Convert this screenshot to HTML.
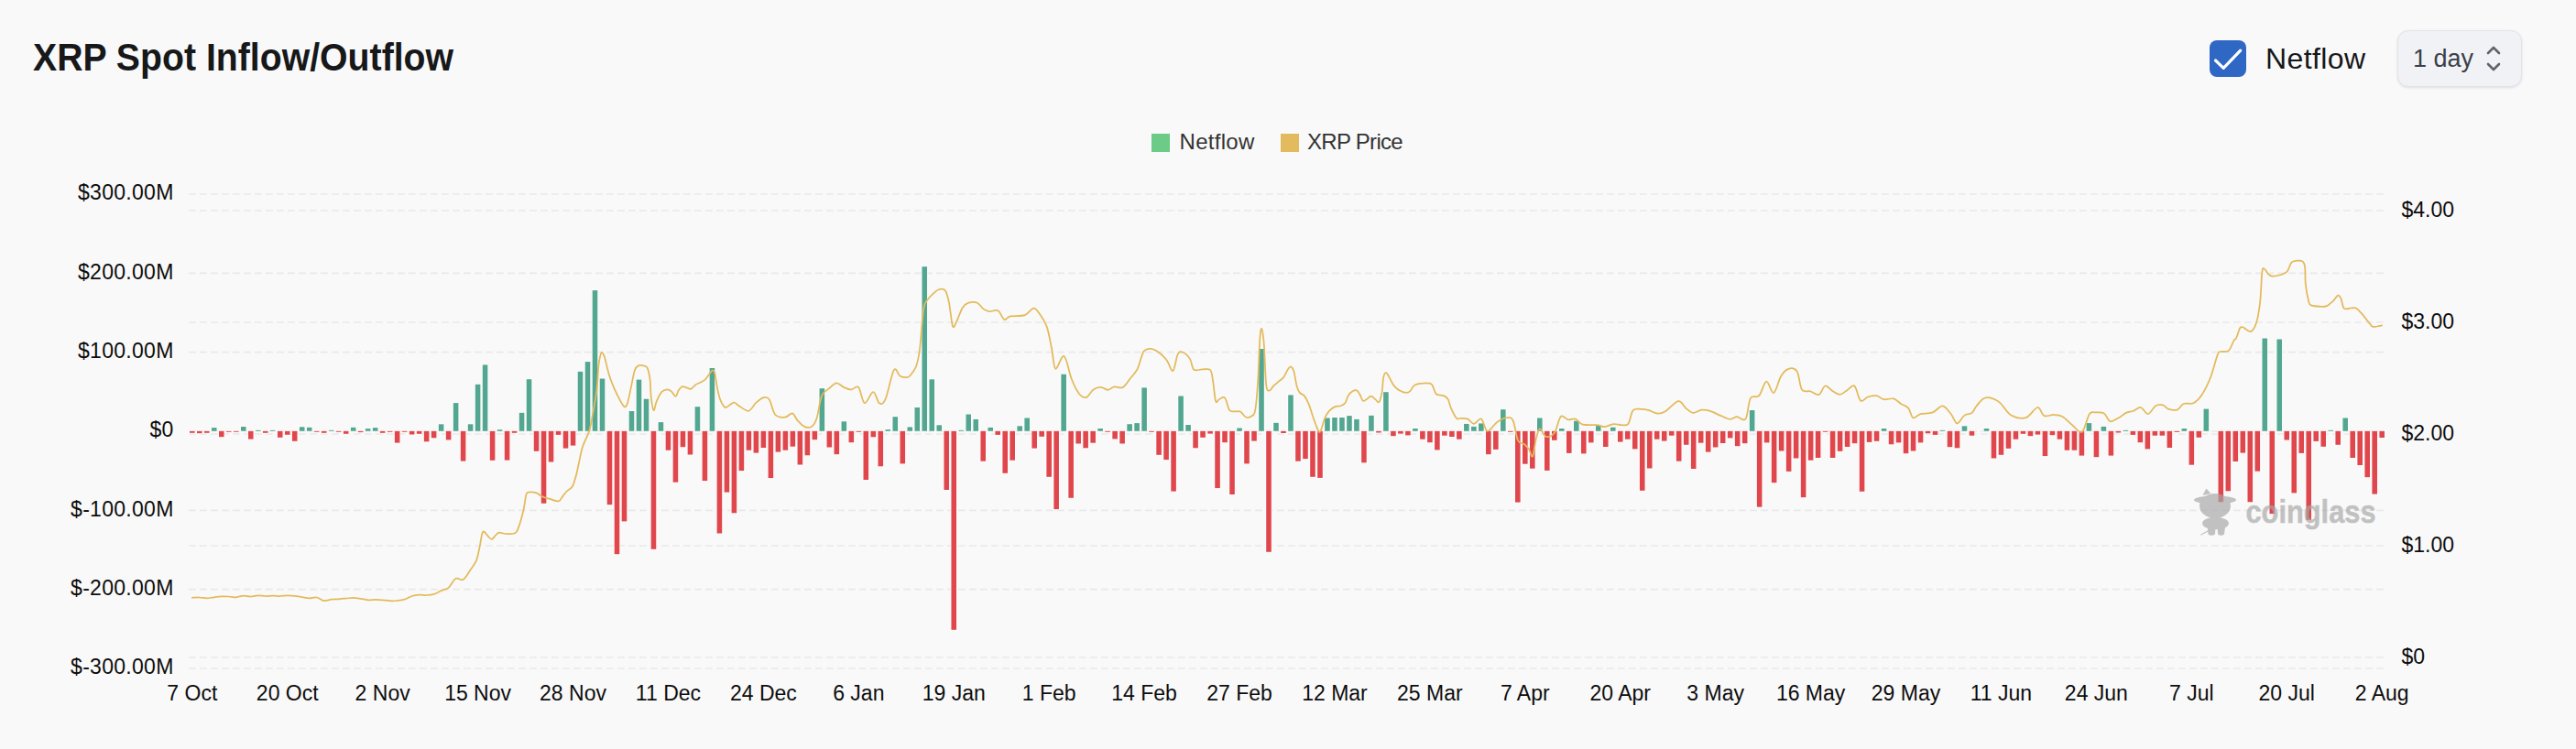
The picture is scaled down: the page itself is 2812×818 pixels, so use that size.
<!DOCTYPE html>
<html><head><meta charset="utf-8"><title>XRP Spot Inflow/Outflow</title>
<style>
html,body{margin:0;padding:0;}
body{width:2812px;height:818px;background:#f9f9f9;position:relative;overflow:hidden;font-family:"Liberation Sans",sans-serif;}
.title{position:absolute;left:36px;top:39px;font-size:42.5px;font-weight:bold;color:#17181a;white-space:nowrap;line-height:48px;transform:scaleX(0.923);transform-origin:0 0;}
.cb{position:absolute;left:2412px;top:44px;width:40px;height:40px;border-radius:8px;background:#2f67c5;}
.nf{position:absolute;left:2473px;top:46px;font-size:32px;color:#16171a;line-height:36px;white-space:nowrap;letter-spacing:0.4px;}
.dd{position:absolute;left:2617px;top:33px;width:134px;height:60px;border-radius:12px;background:#f1f2f5;border:1px solid #e1e3e7;box-shadow:0 1px 3px rgba(0,0,0,0.10);}
.dd span{position:absolute;left:16px;top:12px;font-size:27px;color:#3b4048;line-height:36px;white-space:nowrap;}
.legend{position:absolute;top:141px;font-size:24px;color:#333;line-height:28px;white-space:nowrap;}
.sq{position:absolute;top:146px;width:20px;height:20px;}
</style></head><body>
<div class="title">XRP Spot Inflow/Outflow</div>
<div class="cb"><svg width="40" height="40" viewBox="0 0 40 40" style="position:absolute;left:0;top:0"><path d="M6.5,22 L15.2,30.3 L33.7,11.2" fill="none" stroke="#fff" stroke-width="3.2" stroke-linecap="round" stroke-linejoin="round"/></svg></div>
<div class="nf">Netflow</div>
<div class="dd"><span>1 day</span><svg width="20" height="32" viewBox="0 0 20 32" style="position:absolute;left:94px;top:14px"><path d="M4,10 L10,4 L16,10 M4,22 L10,28 L16,22" fill="none" stroke="#5f646c" stroke-width="2.6" stroke-linecap="round" stroke-linejoin="round"/></svg></div>
<div class="sq" style="left:1257px;background:#6bcb87"></div>
<div class="legend" style="left:1287.5px;letter-spacing:0.3px">Netflow</div>
<div class="sq" style="left:1398px;background:#e3bb5f"></div>
<div class="legend" style="left:1427px;letter-spacing:-0.7px">XRP Price</div>
<svg width="2812" height="818" viewBox="0 0 2812 818" style="position:absolute;left:0;top:0"><g stroke="#e9e9e9" stroke-width="1.6" stroke-dasharray="7.8 4.2"><line x1="206" y1="212" x2="2602" y2="212" /><line x1="206" y1="298.33" x2="2602" y2="298.33" /><line x1="206" y1="384.67" x2="2602" y2="384.67" /><line x1="206" y1="471" x2="2602" y2="471" /><line x1="206" y1="557.33" x2="2602" y2="557.33" /><line x1="206" y1="643.67" x2="2602" y2="643.67" /><line x1="206" y1="730" x2="2602" y2="730" /><line x1="206" y1="230" x2="2602" y2="230" /><line x1="206" y1="352" x2="2602" y2="352" /><line x1="206" y1="474" x2="2602" y2="474" /><line x1="206" y1="596" x2="2602" y2="596" /><line x1="206" y1="718" x2="2602" y2="718" /></g><g fill="#53a790" stroke="#fff" stroke-width="1.4" paint-order="stroke"><rect x="230.98" y="467.1" width="5.6" height="3.7"/><rect x="262.96" y="466" width="5.6" height="4.8"/><rect x="278.95" y="469.8" width="5.6" height="1"/><rect x="294.94" y="469.8" width="5.6" height="1"/><rect x="326.92" y="466.3" width="5.6" height="4.5"/><rect x="334.91" y="466.8" width="5.6" height="4"/><rect x="358.9" y="469.8" width="5.6" height="1"/><rect x="382.88" y="466.8" width="5.6" height="4"/><rect x="398.87" y="468.1" width="5.6" height="2.7"/><rect x="406.87" y="467.1" width="5.6" height="3.7"/><rect x="478.82" y="463.3" width="5.6" height="7.5"/><rect x="494.81" y="440.1" width="5.6" height="30.7"/><rect x="510.79" y="463.3" width="5.6" height="7.5"/><rect x="518.79" y="419.8" width="5.6" height="51"/><rect x="526.78" y="398.4" width="5.6" height="72.4"/><rect x="542.77" y="469.2" width="5.6" height="1.6"/><rect x="566.76" y="450.8" width="5.6" height="20"/><rect x="574.75" y="414.2" width="5.6" height="56.6"/><rect x="630.71" y="405.8" width="5.6" height="65"/><rect x="638.71" y="395.1" width="5.6" height="75.7"/><rect x="646.7" y="317.1" width="5.6" height="153.7"/><rect x="654.7" y="413.5" width="5.6" height="57.3"/><rect x="686.68" y="449" width="5.6" height="21.8"/><rect x="694.67" y="414.6" width="5.6" height="56.2"/><rect x="702.67" y="435.7" width="5.6" height="35.1"/><rect x="718.65" y="461.1" width="5.6" height="9.7"/><rect x="758.63" y="444.2" width="5.6" height="26.6"/><rect x="774.62" y="402" width="5.6" height="68.8"/><rect x="894.54" y="424.2" width="5.6" height="46.6"/><rect x="918.52" y="460.3" width="5.6" height="10.5"/><rect x="966.49" y="469.1" width="5.6" height="1.7"/><rect x="974.48" y="455.2" width="5.6" height="15.6"/><rect x="990.47" y="466.4" width="5.6" height="4.4"/><rect x="998.47" y="445" width="5.6" height="25.8"/><rect x="1006.46" y="291.2" width="5.6" height="179.6"/><rect x="1014.45" y="414.3" width="5.6" height="56.5"/><rect x="1022.45" y="464.3" width="5.6" height="6.5"/><rect x="1046.43" y="469.8" width="5.6" height="1"/><rect x="1054.43" y="452.5" width="5.6" height="18.3"/><rect x="1062.42" y="457.9" width="5.6" height="12.9"/><rect x="1078.41" y="466.9" width="5.6" height="3.9"/><rect x="1110.39" y="465.3" width="5.6" height="5.5"/><rect x="1118.38" y="456.5" width="5.6" height="14.3"/><rect x="1158.36" y="408.7" width="5.6" height="62.1"/><rect x="1198.33" y="468" width="5.6" height="2.8"/><rect x="1230.31" y="463.2" width="5.6" height="7.6"/><rect x="1238.3" y="462.1" width="5.6" height="8.7"/><rect x="1246.3" y="423.4" width="5.6" height="47.4"/><rect x="1286.27" y="432.5" width="5.6" height="38.3"/><rect x="1294.27" y="464" width="5.6" height="6.8"/><rect x="1350.23" y="467.5" width="5.6" height="3.3"/><rect x="1374.21" y="381" width="5.6" height="89.8"/><rect x="1390.2" y="461.8" width="5.6" height="9"/><rect x="1406.19" y="431.4" width="5.6" height="39.4"/><rect x="1446.16" y="456.5" width="5.6" height="14.3"/><rect x="1454.16" y="456" width="5.6" height="14.8"/><rect x="1462.15" y="456" width="5.6" height="14.8"/><rect x="1470.15" y="454.1" width="5.6" height="16.7"/><rect x="1478.14" y="457.9" width="5.6" height="12.9"/><rect x="1494.13" y="453.8" width="5.6" height="17"/><rect x="1510.12" y="428.2" width="5.6" height="42.6"/><rect x="1542.1" y="468" width="5.6" height="2.8"/><rect x="1598.06" y="462.9" width="5.6" height="7.9"/><rect x="1606.06" y="465.9" width="5.6" height="4.9"/><rect x="1614.05" y="462.4" width="5.6" height="8.4"/><rect x="1638.03" y="447.2" width="5.6" height="23.6"/><rect x="1678.01" y="456.5" width="5.6" height="14.3"/><rect x="1701.99" y="468" width="5.6" height="2.8"/><rect x="1717.98" y="459.7" width="5.6" height="11.1"/><rect x="1741.96" y="465.1" width="5.6" height="5.7"/><rect x="1757.95" y="466.7" width="5.6" height="4.1"/><rect x="1909.85" y="448" width="5.6" height="22.8"/><rect x="2053.75" y="468" width="5.6" height="2.8"/><rect x="2117.71" y="469.8" width="5.6" height="1"/><rect x="2141.69" y="465.3" width="5.6" height="5.5"/><rect x="2165.68" y="468" width="5.6" height="2.8"/><rect x="2277.6" y="462.1" width="5.6" height="8.7"/><rect x="2293.59" y="465.9" width="5.6" height="4.9"/><rect x="2317.57" y="469.8" width="5.6" height="1"/><rect x="2381.53" y="468" width="5.6" height="2.8"/><rect x="2405.51" y="446.6" width="5.6" height="24.2"/><rect x="2469.47" y="369.5" width="5.6" height="101.3"/><rect x="2485.46" y="370.5" width="5.6" height="100.3"/><rect x="2541.42" y="469.8" width="5.6" height="1"/><rect x="2557.41" y="456.5" width="5.6" height="14.3"/></g><g fill="#e0474d" stroke="#fff" stroke-width="1.4" paint-order="stroke"><rect x="207" y="470.8" width="5.6" height="2"/><rect x="214.99" y="470.8" width="5.6" height="2.4"/><rect x="222.99" y="470.8" width="5.6" height="2"/><rect x="238.98" y="470.8" width="5.6" height="6.4"/><rect x="246.97" y="470.8" width="5.6" height="1"/><rect x="254.97" y="470.8" width="5.6" height="1"/><rect x="270.96" y="470.8" width="5.6" height="8.8"/><rect x="286.95" y="470.8" width="5.6" height="2"/><rect x="302.94" y="470.8" width="5.6" height="7"/><rect x="310.93" y="470.8" width="5.6" height="4"/><rect x="318.92" y="470.8" width="5.6" height="11"/><rect x="342.91" y="470.8" width="5.6" height="1"/><rect x="350.9" y="470.8" width="5.6" height="2"/><rect x="366.89" y="470.8" width="5.6" height="1"/><rect x="374.89" y="470.8" width="5.6" height="3"/><rect x="390.88" y="470.8" width="5.6" height="1.3"/><rect x="414.86" y="470.8" width="5.6" height="2"/><rect x="422.85" y="470.8" width="5.6" height="1"/><rect x="430.85" y="470.8" width="5.6" height="12.8"/><rect x="438.84" y="470.8" width="5.6" height="1"/><rect x="446.84" y="470.8" width="5.6" height="3.7"/><rect x="454.83" y="470.8" width="5.6" height="3"/><rect x="462.83" y="470.8" width="5.6" height="11.5"/><rect x="470.82" y="470.8" width="5.6" height="7.5"/><rect x="486.81" y="470.8" width="5.6" height="9.6"/><rect x="502.8" y="470.8" width="5.6" height="32.8"/><rect x="534.78" y="470.8" width="5.6" height="32"/><rect x="550.77" y="470.8" width="5.6" height="31.8"/><rect x="558.76" y="470.8" width="5.6" height="2"/><rect x="582.75" y="470.8" width="5.6" height="22"/><rect x="590.74" y="470.8" width="5.6" height="79"/><rect x="598.74" y="470.8" width="5.6" height="33.7"/><rect x="606.73" y="470.8" width="5.6" height="4.1"/><rect x="614.72" y="470.8" width="5.6" height="18.8"/><rect x="622.72" y="470.8" width="5.6" height="15.8"/><rect x="662.69" y="470.8" width="5.6" height="80.4"/><rect x="670.69" y="470.8" width="5.6" height="134.4"/><rect x="678.68" y="470.8" width="5.6" height="98.6"/><rect x="710.66" y="470.8" width="5.6" height="129"/><rect x="726.65" y="470.8" width="5.6" height="20.9"/><rect x="734.64" y="470.8" width="5.6" height="55.9"/><rect x="742.64" y="470.8" width="5.6" height="17.4"/><rect x="750.63" y="470.8" width="5.6" height="25.7"/><rect x="766.62" y="470.8" width="5.6" height="54.3"/><rect x="782.61" y="470.8" width="5.6" height="111.7"/><rect x="790.61" y="470.8" width="5.6" height="66.8"/><rect x="798.6" y="470.8" width="5.6" height="89.5"/><rect x="806.6" y="470.8" width="5.6" height="43.3"/><rect x="814.59" y="470.8" width="5.6" height="20.9"/><rect x="822.58" y="470.8" width="5.6" height="23.8"/><rect x="830.58" y="470.8" width="5.6" height="18.2"/><rect x="838.57" y="470.8" width="5.6" height="51.3"/><rect x="846.57" y="470.8" width="5.6" height="22.8"/><rect x="854.56" y="470.8" width="5.6" height="20.9"/><rect x="862.56" y="470.8" width="5.6" height="16.9"/><rect x="870.55" y="470.8" width="5.6" height="36.7"/><rect x="878.55" y="470.8" width="5.6" height="26.5"/><rect x="886.54" y="470.8" width="5.6" height="9.4"/><rect x="902.53" y="470.8" width="5.6" height="17.7"/><rect x="910.52" y="470.8" width="5.6" height="25.4"/><rect x="926.51" y="470.8" width="5.6" height="12.4"/><rect x="934.51" y="470.8" width="5.6" height="1"/><rect x="942.5" y="470.8" width="5.6" height="53.2"/><rect x="950.5" y="470.8" width="5.6" height="6.5"/><rect x="958.49" y="470.8" width="5.6" height="38.5"/><rect x="982.48" y="470.8" width="5.6" height="35.6"/><rect x="1030.44" y="470.8" width="5.6" height="64.2"/><rect x="1038.44" y="470.8" width="5.6" height="217"/><rect x="1070.42" y="470.8" width="5.6" height="32.9"/><rect x="1086.41" y="470.8" width="5.6" height="4.1"/><rect x="1094.4" y="470.8" width="5.6" height="46"/><rect x="1102.4" y="470.8" width="5.6" height="31.9"/><rect x="1126.38" y="470.8" width="5.6" height="18.8"/><rect x="1134.37" y="470.8" width="5.6" height="6"/><rect x="1142.37" y="470.8" width="5.6" height="50"/><rect x="1150.36" y="470.8" width="5.6" height="85.3"/><rect x="1166.35" y="470.8" width="5.6" height="73"/><rect x="1174.35" y="470.8" width="5.6" height="13.7"/><rect x="1182.34" y="470.8" width="5.6" height="18.5"/><rect x="1190.34" y="470.8" width="5.6" height="12.9"/><rect x="1206.33" y="470.8" width="5.6" height="1"/><rect x="1214.32" y="470.8" width="5.6" height="8.6"/><rect x="1222.31" y="470.8" width="5.6" height="13.7"/><rect x="1254.29" y="470.8" width="5.6" height="1"/><rect x="1262.29" y="470.8" width="5.6" height="26"/><rect x="1270.28" y="470.8" width="5.6" height="31.3"/><rect x="1278.28" y="470.8" width="5.6" height="65.8"/><rect x="1302.26" y="470.8" width="5.6" height="18.5"/><rect x="1310.25" y="470.8" width="5.6" height="7"/><rect x="1318.25" y="470.8" width="5.6" height="2.8"/><rect x="1326.24" y="470.8" width="5.6" height="62.3"/><rect x="1334.24" y="470.8" width="5.6" height="12.4"/><rect x="1342.23" y="470.8" width="5.6" height="69.2"/><rect x="1358.22" y="470.8" width="5.6" height="35.6"/><rect x="1366.22" y="470.8" width="5.6" height="10.8"/><rect x="1382.21" y="470.8" width="5.6" height="132"/><rect x="1398.2" y="470.8" width="5.6" height="2.2"/><rect x="1414.18" y="470.8" width="5.6" height="32.9"/><rect x="1422.18" y="470.8" width="5.6" height="30.3"/><rect x="1430.17" y="470.8" width="5.6" height="50"/><rect x="1438.17" y="470.8" width="5.6" height="51.1"/><rect x="1486.14" y="470.8" width="5.6" height="34.5"/><rect x="1502.13" y="470.8" width="5.6" height="1.7"/><rect x="1518.11" y="470.8" width="5.6" height="5.4"/><rect x="1526.11" y="470.8" width="5.6" height="2.8"/><rect x="1534.1" y="470.8" width="5.6" height="4.6"/><rect x="1550.09" y="470.8" width="5.6" height="8.9"/><rect x="1558.09" y="470.8" width="5.6" height="12.4"/><rect x="1566.08" y="470.8" width="5.6" height="20.6"/><rect x="1574.08" y="470.8" width="5.6" height="4.9"/><rect x="1582.07" y="470.8" width="5.6" height="6.2"/><rect x="1590.07" y="470.8" width="5.6" height="8.9"/><rect x="1622.04" y="470.8" width="5.6" height="25.4"/><rect x="1630.04" y="470.8" width="5.6" height="20.1"/><rect x="1646.03" y="470.8" width="5.6" height="1"/><rect x="1654.02" y="470.8" width="5.6" height="77.8"/><rect x="1662.02" y="470.8" width="5.6" height="35.9"/><rect x="1670.01" y="470.8" width="5.6" height="40.9"/><rect x="1686" y="470.8" width="5.6" height="43.1"/><rect x="1694" y="470.8" width="5.6" height="10"/><rect x="1709.98" y="470.8" width="5.6" height="24.1"/><rect x="1725.97" y="470.8" width="5.6" height="24.6"/><rect x="1733.97" y="470.8" width="5.6" height="12.6"/><rect x="1749.96" y="470.8" width="5.6" height="17.2"/><rect x="1765.95" y="470.8" width="5.6" height="11.8"/><rect x="1773.94" y="470.8" width="5.6" height="8.9"/><rect x="1781.94" y="470.8" width="5.6" height="19.6"/><rect x="1789.93" y="470.8" width="5.6" height="65"/><rect x="1797.93" y="470.8" width="5.6" height="40.7"/><rect x="1805.92" y="470.8" width="5.6" height="8.9"/><rect x="1813.91" y="470.8" width="5.6" height="10.8"/><rect x="1821.91" y="470.8" width="5.6" height="4.9"/><rect x="1829.9" y="470.8" width="5.6" height="32.9"/><rect x="1837.9" y="470.8" width="5.6" height="15"/><rect x="1845.89" y="470.8" width="5.6" height="41.2"/><rect x="1853.89" y="470.8" width="5.6" height="12.9"/><rect x="1861.88" y="470.8" width="5.6" height="22.8"/><rect x="1869.88" y="470.8" width="5.6" height="17.7"/><rect x="1877.87" y="470.8" width="5.6" height="13.2"/><rect x="1885.87" y="470.8" width="5.6" height="7.6"/><rect x="1893.86" y="470.8" width="5.6" height="16.4"/><rect x="1901.86" y="470.8" width="5.6" height="13.4"/><rect x="1917.84" y="470.8" width="5.6" height="82.9"/><rect x="1925.84" y="470.8" width="5.6" height="12.6"/><rect x="1933.83" y="470.8" width="5.6" height="56.4"/><rect x="1941.83" y="470.8" width="5.6" height="21.7"/><rect x="1949.82" y="470.8" width="5.6" height="44.1"/><rect x="1957.82" y="470.8" width="5.6" height="29.7"/><rect x="1965.81" y="470.8" width="5.6" height="72.4"/><rect x="1973.81" y="470.8" width="5.6" height="31.9"/><rect x="1981.8" y="470.8" width="5.6" height="29.2"/><rect x="1989.8" y="470.8" width="5.6" height="1"/><rect x="1997.79" y="470.8" width="5.6" height="29.2"/><rect x="2005.79" y="470.8" width="5.6" height="22"/><rect x="2013.78" y="470.8" width="5.6" height="17.2"/><rect x="2021.77" y="470.8" width="5.6" height="13.4"/><rect x="2029.77" y="470.8" width="5.6" height="66"/><rect x="2037.76" y="470.8" width="5.6" height="12.1"/><rect x="2045.76" y="470.8" width="5.6" height="11"/><rect x="2061.75" y="470.8" width="5.6" height="14.5"/><rect x="2069.74" y="470.8" width="5.6" height="12.6"/><rect x="2077.74" y="470.8" width="5.6" height="24.4"/><rect x="2085.73" y="470.8" width="5.6" height="21.7"/><rect x="2093.73" y="470.8" width="5.6" height="12.6"/><rect x="2101.72" y="470.8" width="5.6" height="2.5"/><rect x="2109.71" y="470.8" width="5.6" height="4.1"/><rect x="2125.7" y="470.8" width="5.6" height="17.4"/><rect x="2133.7" y="470.8" width="5.6" height="18.5"/><rect x="2149.69" y="470.8" width="5.6" height="4.9"/><rect x="2173.67" y="470.8" width="5.6" height="29.7"/><rect x="2181.67" y="470.8" width="5.6" height="26"/><rect x="2189.66" y="470.8" width="5.6" height="19"/><rect x="2197.66" y="470.8" width="5.6" height="8.9"/><rect x="2205.65" y="470.8" width="5.6" height="3"/><rect x="2213.64" y="470.8" width="5.6" height="5.4"/><rect x="2221.64" y="470.8" width="5.6" height="3.8"/><rect x="2229.63" y="470.8" width="5.6" height="27.3"/><rect x="2237.63" y="470.8" width="5.6" height="4.4"/><rect x="2245.62" y="470.8" width="5.6" height="8.9"/><rect x="2253.62" y="470.8" width="5.6" height="20.9"/><rect x="2261.61" y="470.8" width="5.6" height="20.9"/><rect x="2269.61" y="470.8" width="5.6" height="26.8"/><rect x="2285.6" y="470.8" width="5.6" height="28.4"/><rect x="2301.59" y="470.8" width="5.6" height="26.8"/><rect x="2309.58" y="470.8" width="5.6" height="1.7"/><rect x="2325.57" y="470.8" width="5.6" height="4.1"/><rect x="2333.56" y="470.8" width="5.6" height="12.4"/><rect x="2341.56" y="470.8" width="5.6" height="19.6"/><rect x="2349.55" y="470.8" width="5.6" height="4.9"/><rect x="2357.55" y="470.8" width="5.6" height="4.9"/><rect x="2365.54" y="470.8" width="5.6" height="18.2"/><rect x="2373.54" y="470.8" width="5.6" height="1.1"/><rect x="2389.53" y="470.8" width="5.6" height="36.9"/><rect x="2397.52" y="470.8" width="5.6" height="7"/><rect x="2421.5" y="470.8" width="5.6" height="77.5"/><rect x="2429.5" y="470.8" width="5.6" height="65.5"/><rect x="2437.49" y="470.8" width="5.6" height="33.2"/><rect x="2445.49" y="470.8" width="5.6" height="23.8"/><rect x="2453.48" y="470.8" width="5.6" height="77.5"/><rect x="2461.48" y="470.8" width="5.6" height="43.9"/><rect x="2477.47" y="470.8" width="5.6" height="90.3"/><rect x="2493.46" y="470.8" width="5.6" height="9.7"/><rect x="2501.45" y="470.8" width="5.6" height="67.6"/><rect x="2509.44" y="470.8" width="5.6" height="24.1"/><rect x="2517.44" y="470.8" width="5.6" height="97"/><rect x="2525.43" y="470.8" width="5.6" height="11.1"/><rect x="2533.43" y="470.8" width="5.6" height="17"/><rect x="2549.42" y="470.8" width="5.6" height="15"/><rect x="2565.41" y="470.8" width="5.6" height="29.2"/><rect x="2573.4" y="470.8" width="5.6" height="37.2"/><rect x="2581.4" y="470.8" width="5.6" height="50.4"/><rect x="2589.39" y="470.8" width="5.6" height="68.8"/><rect x="2597.39" y="470.8" width="5.6" height="7.2"/></g><path d="M209.8,652.8C211.13,652.75 215.13,652.4 217.79,652.5C220.46,652.6 223.12,653.43 225.79,653.4C228.45,653.37 231.12,652.65 233.78,652.3C236.45,651.95 239.11,651.43 241.78,651.3C244.44,651.17 247.11,651.33 249.77,651.5C252.44,651.67 255.1,652.45 257.77,652.3C260.43,652.15 263.1,650.73 265.76,650.6C268.43,650.47 271.09,651.53 273.76,651.5C276.42,651.47 279.09,650.48 281.75,650.4C284.42,650.32 287.08,650.97 289.75,651C292.41,651.03 295.08,650.6 297.74,650.6C300.41,650.6 303.07,651.03 305.74,651C308.4,650.97 311.06,650.43 313.73,650.4C316.39,650.37 319.06,650.52 321.72,650.8C324.39,651.08 327.05,651.67 329.72,652.1C332.38,652.53 335.05,653.33 337.71,653.4C340.38,653.47 343.04,652.03 345.71,652.5C348.37,652.97 351.04,655.83 353.7,656.2C356.37,656.57 359.03,655.02 361.7,654.7C364.36,654.38 367.03,654.48 369.69,654.3C372.36,654.12 375.02,653.85 377.69,653.6C380.35,653.35 383.02,652.77 385.68,652.8C388.35,652.83 391.01,653.38 393.68,653.8C396.34,654.22 399.01,655.12 401.67,655.3C404.34,655.48 407,654.9 409.67,654.9C412.33,654.9 414.99,655.08 417.66,655.3C420.32,655.52 422.99,656.08 425.65,656.2C428.32,656.32 430.98,656.25 433.65,656C436.31,655.75 438.98,655.53 441.64,654.7C444.31,653.87 446.97,651.85 449.64,651C452.3,650.15 454.97,649.77 457.63,649.6C460.3,649.43 462.96,650.12 465.63,650C468.29,649.88 470.96,649.72 473.62,648.9C476.29,648.08 478.95,646.27 481.62,645.1C484.28,643.93 486.95,644.12 489.61,641.9C492.28,639.68 494.94,633.27 497.61,631.8C500.27,630.33 502.94,634.7 505.6,633.1C508.27,631.5 511.19,625.7 513.59,622.2C515.99,618.7 518.4,615.92 520,612.1C521.6,608.28 522.13,604.23 523.2,599.3C524.27,594.37 525.47,585.57 526.4,582.5C527.33,579.43 527.73,580.37 528.8,580.9C529.87,581.43 531.47,584.37 532.8,585.7C534.13,587.03 535.47,589.03 536.8,588.9C538.13,588.77 539.47,586.1 540.8,584.9C542.13,583.7 542.93,582.02 544.8,581.7C546.67,581.38 549.2,582.87 552,583C554.8,583.13 559.32,583.52 561.6,582.5C563.88,581.48 564.08,581.03 565.7,576.9C567.32,572.77 569.83,563.85 571.3,557.7C572.77,551.55 573.43,543.35 574.5,540C575.57,536.65 575.83,537.87 577.7,537.6C579.57,537.33 583.3,537.6 585.7,538.4C588.1,539.2 589.7,541.32 592.1,542.4C594.5,543.48 597.17,544.08 600.1,544.9C603.03,545.72 607.3,547.85 609.7,547.3C612.1,546.75 612.9,543.48 614.5,541.6C616.1,539.72 617.57,537.73 619.3,536C621.03,534.27 623.3,534 624.9,531.2C626.5,528.4 627.7,523.6 628.9,519.2C630.1,514.8 630.92,510 632.1,504.8C633.28,499.6 634.12,493.8 636,488C637.88,482.2 641.5,476.32 643.4,470C645.3,463.68 646.07,457.42 647.4,450.1C648.73,442.78 650.4,434.55 651.4,426.1C652.4,417.65 652.63,406.08 653.4,399.4C654.17,392.72 655.23,388.27 656,386C656.77,383.73 657.33,385.13 658,385.8C658.67,386.47 658.88,386.18 660,390C661.12,393.82 663.02,403.13 664.7,408.7C666.38,414.27 668.1,418.72 670.1,423.4C672.1,428.08 674.82,433.35 676.7,436.8C678.58,440.25 680.05,443.43 681.4,444.1C682.75,444.77 683.57,444.25 684.8,440.8C686.03,437.35 687.47,429.42 688.8,423.4C690.13,417.38 691.47,408.7 692.8,404.7C694.13,400.7 695.02,400.25 696.8,399.4C698.58,398.55 701.83,399.15 703.5,399.6C705.17,400.05 705.8,399.68 706.8,402.1C707.8,404.52 708.83,408.77 709.5,414.1C710.17,419.43 710.13,428.43 710.8,434.1C711.47,439.77 712.5,447.43 713.5,448.1C714.5,448.77 715.35,441.43 716.8,438.1C718.25,434.77 720.3,430.22 722.2,428.1C724.1,425.98 726.43,425.52 728.2,425.4C729.97,425.28 731.25,426.17 732.8,427.4C734.35,428.63 736.15,433.02 737.5,432.8C738.85,432.58 739.67,427.88 740.9,426.1C742.13,424.32 743.47,422.55 744.9,422.1C746.33,421.65 747.95,422.95 749.5,423.4C751.05,423.85 752.53,425.35 754.2,424.8C755.87,424.25 757.72,421.33 759.5,420.1C761.28,418.87 763.12,418.4 764.9,417.4C766.68,416.4 768.65,415.55 770.2,414.1C771.75,412.65 772.97,410.3 774.2,408.7C775.43,407.1 776.58,404.72 777.6,404.5C778.62,404.28 779.42,404.25 780.3,407.4C781.18,410.55 781.9,418.5 782.9,423.4C783.9,428.3 785.12,433.45 786.3,436.8C787.48,440.15 788.9,442.17 790,443.5C791.1,444.83 791.07,445.43 792.9,444.8C794.73,444.17 798.77,440.02 801,439.7C803.23,439.38 803.63,441.38 806.3,442.9C808.97,444.42 813.88,449.25 817,448.8C820.12,448.35 822.33,442.62 825,440.2C827.67,437.78 830.55,434.97 833,434.3C835.45,433.63 837.48,433.08 839.7,436.2C841.92,439.32 843.42,449.75 846.3,453C849.18,456.25 853.88,455.97 857,455.7C860.12,455.43 862.77,450.87 865,451.4C867.23,451.93 868.17,456.45 870.4,458.9C872.63,461.35 875.73,464.98 878.4,466.1C881.07,467.22 884.18,467.25 886.4,465.6C888.62,463.95 889.92,461.77 891.7,456.2C893.48,450.63 894.87,437.53 897.1,432.2C899.33,426.87 902.43,426.52 905.1,424.2C907.77,421.88 910.43,418.52 913.1,418.3C915.77,418.08 918.43,421.7 921.1,422.9C923.77,424.1 926.43,425.5 929.1,425.5C931.77,425.5 934.65,420.45 937.1,422.9C939.55,425.35 941.12,439.32 943.8,440.2C946.48,441.08 950.53,428.2 953.2,428.2C955.87,428.2 957.58,438.87 959.8,440.2C962.02,441.53 963.83,442.2 966.5,436.2C969.17,430.2 973.13,408.43 975.8,404.2C978.47,399.97 980.13,409.47 982.5,410.8C984.87,412.13 988.18,412.28 990,412.2C991.82,412.12 991.73,412.3 993.4,410.3C995.07,408.3 998.23,405 1000,400.2C1001.77,395.4 1002.67,391.75 1004,381.5C1005.33,371.25 1006.67,347.62 1008,338.7C1009.33,329.78 1010,331.2 1012,328C1014,324.8 1017.77,321.5 1020,319.5C1022.23,317.5 1023.4,316.35 1025.4,316C1027.4,315.65 1030.23,314.95 1032,317.4C1033.77,319.85 1034.67,324.25 1036,330.7C1037.33,337.15 1038.67,352.62 1040,356.1C1041.33,359.58 1042.2,354.95 1044,351.6C1045.8,348.25 1048.57,339.48 1050.8,336C1053.03,332.52 1054.73,331.58 1057.4,330.7C1060.07,329.82 1064.12,329.58 1066.8,330.7C1069.48,331.82 1071.28,335.83 1073.5,337.4C1075.72,338.97 1077.43,339.78 1080.1,340.1C1082.77,340.42 1086.82,337.83 1089.5,339.3C1092.18,340.77 1093.98,347.88 1096.2,348.9C1098.42,349.92 1099.03,346.2 1102.8,345.4C1106.57,344.6 1114.57,345.57 1118.8,344.1C1123.03,342.63 1125.52,336.82 1128.2,336.6C1130.88,336.38 1132.45,339.33 1134.9,342.8C1137.35,346.27 1140.68,350.95 1142.9,357.4C1145.12,363.85 1146.65,373.93 1148.2,381.5C1149.75,389.07 1149.97,401.57 1152.2,402.8C1154.43,404.03 1158.7,387.12 1161.6,388.9C1164.5,390.68 1166.93,406.73 1169.6,413.5C1172.27,420.27 1174.93,426.07 1177.6,429.5C1180.27,432.93 1182.93,434.77 1185.6,434.1C1188.27,433.43 1190.93,427.37 1193.6,425.5C1196.27,423.63 1198.93,422.85 1201.6,422.9C1204.27,422.95 1207.15,425.9 1209.6,425.8C1212.05,425.7 1213.62,422.75 1216.3,422.3C1218.98,421.85 1222.8,424.57 1225.7,423.1C1228.6,421.63 1231.03,416.88 1233.7,413.5C1236.37,410.12 1239.25,407.7 1241.7,402.8C1244.15,397.9 1245.95,387.75 1248.4,384.1C1250.85,380.45 1253.52,380.67 1256.4,380.9C1259.28,381.13 1262.82,383.4 1265.7,385.5C1268.58,387.6 1271.25,390.25 1273.7,393.5C1276.15,396.75 1278.4,406.12 1280.4,405C1282.4,403.88 1283.92,390.18 1285.7,386.8C1287.48,383.42 1288.87,383.82 1291.1,384.7C1293.33,385.58 1297.1,388.93 1299.1,392.1C1301.1,395.27 1300.95,401.8 1303.1,403.7C1305.25,405.6 1309,403.45 1312,403.5C1315,403.55 1319.08,401.92 1321.1,404C1323.12,406.08 1323.1,410.32 1324.1,416C1325.1,421.68 1325.95,434.77 1327.1,438.1C1328.25,441.43 1329.33,436.6 1331,436C1332.67,435.4 1335.23,432.48 1337.1,434.5C1338.97,436.52 1340.38,445.63 1342.2,448.1C1344.02,450.57 1346,449.03 1348,449.3C1350,449.57 1352.17,448.63 1354.2,449.7C1356.23,450.77 1358.2,454.9 1360.2,455.7C1362.2,456.5 1364.53,455.77 1366.2,454.5C1367.87,453.23 1369.03,454.5 1370.2,448.1C1371.37,441.7 1372.37,428.78 1373.2,416.1C1374.03,403.42 1374.53,381.52 1375.2,372C1375.87,362.48 1376.43,358.33 1377.2,359C1377.97,359.67 1378.97,365.82 1379.8,376C1380.63,386.18 1381.2,411.68 1382.2,420.1C1383.2,428.52 1384.5,426.23 1385.8,426.5C1387.1,426.77 1388.23,423.43 1390,421.7C1391.77,419.97 1394.53,417.72 1396.4,416.1C1398.27,414.48 1399.6,414.15 1401.2,412C1402.8,409.85 1404.67,405.12 1406,403.2C1407.33,401.28 1408.13,400.1 1409.2,400.5C1410.27,400.9 1411.33,402.07 1412.4,405.6C1413.47,409.13 1414.53,417.82 1415.6,421.7C1416.67,425.58 1417.45,427.17 1418.8,428.9C1420.15,430.63 1422.08,430.1 1423.7,432.1C1425.32,434.1 1426.9,437.03 1428.5,440.9C1430.1,444.77 1431.7,450.77 1433.3,455.3C1434.9,459.83 1436.77,465.43 1438.1,468.1C1439.43,470.77 1439.97,473.17 1441.3,471.3C1442.63,469.43 1444.5,460.63 1446.1,456.9C1447.7,453.17 1449.03,451.03 1450.9,448.9C1452.77,446.77 1455.17,445.03 1457.3,444.1C1459.43,443.17 1461.83,443.97 1463.7,443.3C1465.57,442.63 1467.17,441.97 1468.5,440.1C1469.83,438.23 1470.37,434.23 1471.7,432.1C1473.03,429.97 1474.9,428.23 1476.5,427.3C1478.1,426.37 1479.95,425.83 1481.3,426.5C1482.65,427.17 1483.52,429.43 1484.6,431.3C1485.68,433.17 1486.6,436.9 1487.8,437.7C1489,438.5 1490.33,436.95 1491.8,436.1C1493.27,435.25 1495,432.6 1496.6,432.6C1498.2,432.6 1499.93,435.03 1501.4,436.1C1502.87,437.17 1504.2,440.33 1505.4,439C1506.6,437.67 1507.8,432.58 1508.6,428.1C1509.4,423.62 1509.45,415.58 1510.2,412.1C1510.95,408.62 1512.03,407.2 1513.1,407.2C1514.17,407.2 1515.22,409.82 1516.6,412.1C1517.98,414.38 1519.53,418.5 1521.4,420.9C1523.27,423.3 1525.4,425.17 1527.8,426.5C1530.2,427.83 1533.8,428.9 1535.8,428.9C1537.8,428.9 1538.47,427.83 1539.8,426.5C1541.13,425.17 1542.05,422.18 1543.8,420.9C1545.55,419.62 1547.35,419.15 1550.3,418.8C1553.25,418.45 1559.1,418.05 1561.5,418.8C1563.9,419.55 1563.63,421.35 1564.7,423.3C1565.77,425.25 1566.03,429.03 1567.9,430.5C1569.77,431.97 1573.77,431.17 1575.9,432.1C1578.03,433.03 1579.37,433.83 1580.7,436.1C1582.03,438.37 1582.35,442.23 1583.9,445.7C1585.45,449.17 1588.27,455.05 1590,456.9C1591.73,458.75 1592.25,456.68 1594.3,456.8C1596.35,456.92 1599.85,456.58 1602.3,457.6C1604.75,458.62 1606.55,462.9 1609,462.9C1611.45,462.9 1614.55,456.27 1617,457.6C1619.45,458.93 1620.82,470.33 1623.7,470.9C1626.58,471.47 1630.75,463.45 1634.3,461C1637.85,458.55 1642.1,456.47 1645,456.2C1647.9,455.93 1649.7,455.27 1651.7,459.4C1653.7,463.53 1655,476.73 1657,481C1659,485.27 1661.7,483.43 1663.7,485C1665.7,486.57 1667.45,488.17 1669,490.4C1670.55,492.63 1671.67,500.4 1673,498.4C1674.33,496.4 1675.67,483.42 1677,478.4C1678.33,473.38 1679.2,468.53 1681,468.3C1682.8,468.07 1685.12,476.33 1687.8,477C1690.48,477.67 1694.43,475.98 1697.1,472.3C1699.77,468.62 1701.35,457.22 1703.8,454.9C1706.25,452.58 1709.13,457.95 1711.8,458.4C1714.47,458.85 1717.13,456.72 1719.8,457.6C1722.47,458.48 1723.8,462.6 1727.8,463.7C1731.8,464.8 1739.8,463.8 1743.8,464.2C1747.8,464.6 1748.9,466.27 1751.8,466.1C1754.7,465.93 1758.17,463.52 1761.2,463.2C1764.23,462.88 1767.3,464.25 1770,464.2C1772.7,464.15 1775.28,465.57 1777.4,462.9C1779.52,460.23 1780.27,450.87 1782.7,448.2C1785.13,445.53 1789.12,446.9 1792,446.9C1794.88,446.9 1797.1,447.4 1800,448.2C1802.9,449 1806.5,451.47 1809.4,451.7C1812.3,451.93 1813.62,451.87 1817.4,449.6C1821.18,447.33 1828.32,438.77 1832.1,438.1C1835.88,437.43 1837.43,443.47 1840.1,445.6C1842.77,447.73 1845.2,450.55 1848.1,450.9C1851,451.25 1854.38,448.05 1857.5,447.7C1860.62,447.35 1863.47,447.82 1866.8,448.8C1870.13,449.78 1873.93,452.1 1877.5,453.6C1881.07,455.1 1885.08,457.53 1888.2,457.8C1891.32,458.07 1893.32,455.23 1896.2,455.2C1899.08,455.17 1903.05,460.98 1905.5,457.6C1907.95,454.22 1908.45,439.13 1910.9,434.9C1913.35,430.67 1917.32,435.23 1920.2,432.2C1923.08,429.17 1925.53,417.23 1928.2,416.7C1930.87,416.17 1933.53,429.98 1936.2,429C1938.87,428.02 1941.52,415.17 1944.2,410.8C1946.88,406.43 1949.4,403.68 1952.3,402.8C1955.2,401.92 1959.15,401.72 1961.6,405.5C1964.05,409.28 1964.55,421.85 1967,425.5C1969.45,429.15 1973.2,426.5 1976.3,427.4C1979.4,428.3 1982.93,431.88 1985.6,430.9C1988.27,429.92 1989.85,422.17 1992.3,421.5C1994.75,420.83 1997.63,425.33 2000.3,426.9C2002.97,428.47 2005.63,431 2008.3,430.9C2010.97,430.8 2013.62,427.87 2016.3,426.3C2018.98,424.73 2021.95,419.63 2024.4,421.5C2026.85,423.37 2028.57,435.5 2031,437.5C2033.43,439.5 2036.1,434.38 2039,433.5C2041.9,432.62 2045.5,431.75 2048.4,432.2C2051.3,432.65 2053.28,435.67 2056.4,436.2C2059.52,436.73 2063.98,434.6 2067.1,435.4C2070.22,436.2 2072.43,439.3 2075.1,441C2077.77,442.7 2080.88,443.07 2083.1,445.6C2085.32,448.13 2086.18,455.1 2088.4,456.2C2090.62,457.3 2092.83,453.17 2096.4,452.2C2099.97,451.23 2105.78,451.87 2109.8,450.4C2113.82,448.93 2117.17,443.1 2120.5,443.4C2123.83,443.7 2127.13,449.03 2129.8,452.2C2132.47,455.37 2134.05,462.17 2136.5,462.4C2138.95,462.63 2141.83,455.52 2144.5,453.6C2147.17,451.68 2150.25,452.68 2152.5,450.9C2154.75,449.12 2155.52,445.67 2158,442.9C2160.48,440.13 2163.4,434.97 2167.4,434.3C2171.4,433.63 2177.33,435.68 2182,438.9C2186.67,442.12 2190.5,450.72 2195.4,453.6C2200.3,456.48 2206.6,457.63 2211.4,456.2C2216.2,454.77 2220.87,445.35 2224.2,445C2227.53,444.65 2228.42,452.77 2231.4,454.1C2234.38,455.43 2238.75,452.87 2242.1,453C2245.45,453.13 2248.17,453.03 2251.5,454.9C2254.83,456.77 2258.55,461.4 2262.1,464.2C2265.65,467 2269.68,473.7 2272.8,471.7C2275.92,469.7 2278.35,455.75 2280.8,452.2C2283.25,448.65 2284.82,450.53 2287.5,450.4C2290.18,450.27 2294.23,449.77 2296.9,451.4C2299.57,453.03 2300.83,459.4 2303.5,460.2C2306.17,461 2310,457.75 2312.9,456.2C2315.8,454.65 2318.23,452.13 2320.9,450.9C2323.57,449.67 2326.23,449.78 2328.9,448.8C2331.57,447.82 2334.23,444.43 2336.9,445C2339.57,445.57 2342.23,452.47 2344.9,452.2C2347.57,451.93 2350.23,445.05 2352.9,443.4C2355.57,441.75 2358.45,441.72 2360.9,442.3C2363.35,442.88 2364.92,446.05 2367.6,446.9C2370.28,447.75 2374.33,448.38 2377,447.4C2379.67,446.42 2380.72,442.2 2383.6,441C2386.48,439.8 2390.95,441.88 2394.3,440.2C2397.65,438.52 2400.58,435.57 2403.7,430.9C2406.82,426.23 2410.12,419.55 2413,412.2C2415.88,404.85 2419,391.48 2421,386.8C2423,382.12 2423,384.77 2425,384.1C2427,383.43 2430.77,384.8 2433,382.8C2435.23,380.8 2437.02,374.43 2438.4,372.1C2439.78,369.77 2440.15,371.13 2441.3,368.8C2442.45,366.47 2444.07,359.98 2445.3,358.1C2446.53,356.22 2447.35,357.05 2448.7,357.5C2450.05,357.95 2451.95,360.07 2453.4,360.8C2454.85,361.53 2456.07,362.57 2457.4,361.9C2458.73,361.23 2460.18,359.43 2461.4,356.8C2462.62,354.17 2463.7,351 2464.7,346.1C2465.7,341.2 2466.62,335.63 2467.4,327.4C2468.18,319.17 2468.63,302.3 2469.4,296.7C2470.17,291.1 2470.88,293.35 2472,293.8C2473.12,294.25 2474.75,298.1 2476.1,299.4C2477.45,300.7 2478.43,301.33 2480.1,301.6C2481.77,301.87 2483.88,301.48 2486.1,301C2488.32,300.52 2491.52,299.63 2493.4,298.7C2495.28,297.77 2496.07,297.4 2497.4,295.4C2498.73,293.4 2499.83,288.48 2501.4,286.7C2502.97,284.92 2504.8,284.92 2506.8,284.7C2508.8,284.48 2511.85,284.28 2513.4,285.4C2514.95,286.52 2515.53,287.28 2516.1,291.4C2516.67,295.52 2516.13,303.87 2516.8,310.1C2517.47,316.33 2519.1,324.92 2520.1,328.8C2521.1,332.68 2520.57,332.4 2522.8,333.4C2525.03,334.4 2530.62,334.68 2533.5,334.8C2536.38,334.92 2537.88,335.1 2540.1,334.1C2542.32,333.1 2544.78,330.7 2546.8,328.8C2548.82,326.9 2550.75,323.15 2552.2,322.7C2553.65,322.25 2554.4,323.75 2555.5,326.1C2556.6,328.45 2556.9,335.08 2558.8,336.8C2560.7,338.52 2564.67,336.4 2566.9,336.4C2569.13,336.4 2570.2,335.63 2572.2,336.8C2574.2,337.97 2576.9,341.18 2578.9,343.4C2580.9,345.62 2582.42,347.92 2584.2,350.1C2585.98,352.28 2587.82,355.43 2589.6,356.5C2591.38,357.57 2593.13,356.67 2594.9,356.5C2596.67,356.33 2599.32,355.67 2600.2,355.5" fill="none" stroke="#e3ba5b" stroke-width="1.75" stroke-linejoin="round" stroke-linecap="round"/><g font-family="Liberation Sans, sans-serif" font-size="23" fill="#0d0d0d"><text x="189.6" y="218.3" text-anchor="end" letter-spacing="0.28">$300.00M</text><text x="189.6" y="304.63" text-anchor="end" letter-spacing="0.28">$200.00M</text><text x="189.6" y="390.97" text-anchor="end" letter-spacing="0.28">$100.00M</text><text x="189.6" y="477.3" text-anchor="end" letter-spacing="0.28">$0</text><text x="189.6" y="563.63" text-anchor="end" letter-spacing="0.28">$-100.00M</text><text x="189.6" y="649.97" text-anchor="end" letter-spacing="0.28">$-200.00M</text><text x="189.6" y="736.3" text-anchor="end" letter-spacing="0.28">$-300.00M</text><text x="2621.5" y="236.7">$4.00</text><text x="2621.5" y="358.7">$3.00</text><text x="2621.5" y="480.7">$2.00</text><text x="2621.5" y="602.7">$1.00</text><text x="2621.5" y="724.7">$0</text><text x="209.8" y="764.8" text-anchor="middle">7 Oct</text><text x="313.73" y="764.8" text-anchor="middle">20 Oct</text><text x="417.66" y="764.8" text-anchor="middle">2 Nov</text><text x="521.59" y="764.8" text-anchor="middle">15 Nov</text><text x="625.52" y="764.8" text-anchor="middle">28 Nov</text><text x="729.45" y="764.8" text-anchor="middle">11 Dec</text><text x="833.38" y="764.8" text-anchor="middle">24 Dec</text><text x="937.31" y="764.8" text-anchor="middle">6 Jan</text><text x="1041.24" y="764.8" text-anchor="middle">19 Jan</text><text x="1145.17" y="764.8" text-anchor="middle">1 Feb</text><text x="1249.1" y="764.8" text-anchor="middle">14 Feb</text><text x="1353.03" y="764.8" text-anchor="middle">27 Feb</text><text x="1456.96" y="764.8" text-anchor="middle">12 Mar</text><text x="1560.89" y="764.8" text-anchor="middle">25 Mar</text><text x="1664.82" y="764.8" text-anchor="middle">7 Apr</text><text x="1768.75" y="764.8" text-anchor="middle">20 Apr</text><text x="1872.68" y="764.8" text-anchor="middle">3 May</text><text x="1976.61" y="764.8" text-anchor="middle">16 May</text><text x="2080.54" y="764.8" text-anchor="middle">29 May</text><text x="2184.47" y="764.8" text-anchor="middle">11 Jun</text><text x="2288.4" y="764.8" text-anchor="middle">24 Jun</text><text x="2392.33" y="764.8" text-anchor="middle">7 Jul</text><text x="2496.26" y="764.8" text-anchor="middle">20 Jul</text><text x="2600.19" y="764.8" text-anchor="middle">2 Aug</text></g><g opacity="0.68" fill="rgb(168,168,168)">
<ellipse cx="2418" cy="552.5" rx="17" ry="13.5"/>
<ellipse cx="2418" cy="546" rx="23" ry="4.6"/>
<path d="M2404.5,541 L2408.3,533.6 L2413.5,539 Z"/>
<ellipse cx="2418.5" cy="571.5" rx="14.5" ry="6.8"/>
<path d="M2409.5,574 L2418.5,574 L2418,583.5 Q2414,586 2410.5,583.5 Z"/>
<path d="M2420.5,574 L2429.2,574 L2428,583.5 Q2424.5,586 2421,583.5 Z"/>
<path d="M2411,579.5 L2402.4,584.3" stroke="rgb(168,168,168)" stroke-width="1.3" fill="none"/>
<text x="2451.5" y="571.3" font-family="Liberation Sans, sans-serif" font-weight="bold" font-size="35" stroke="rgb(168,168,168)" stroke-width="0.45" textLength="142" lengthAdjust="spacingAndGlyphs">coinglass</text>
</g></svg>
</body></html>
